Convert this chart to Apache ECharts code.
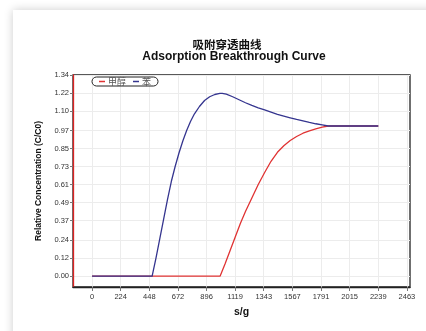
<!DOCTYPE html>
<html><head><meta charset="utf-8">
<script src="https://cdn.jsdelivr.net/npm/echarts@6/dist/echarts.min.js"></script>
<style>
html,body{margin:0;padding:0;width:426px;height:331px;overflow:hidden;background:#fff;}
#card{position:absolute;left:13px;top:10px;right:-30px;bottom:-30px;background:#fff;box-shadow:0 0 9px rgba(0,0,0,0.2);}
#chart{position:absolute;left:0;top:0;width:426px;height:331px;}
</style></head>
<body>
<div id="card"></div>
<div id="chart"></div>
<script>
// ---- data ----
const titleCN = '吸附穿透曲线';
const titleEN = 'Adsorption Breakthrough Curve';
const seriesNames = ['甲醇', '苯'];
const xTicks = [0, 224, 448, 672, 896, 1119, 1343, 1567, 1791, 2015, 2239, 2463];
const yTicks = [0.00, 0.12, 0.24, 0.37, 0.49, 0.61, 0.73, 0.85, 0.97, 1.10, 1.22, 1.34];
// 甲醇 (red)
const xMethanol = [0, 1002, 1040, 1080, 1120, 1160, 1200, 1250, 1300, 1350, 1400, 1450, 1500, 1550, 1600, 1650, 1700, 1750, 1800, 1848, 2239];
const yMethanol = [0, 0, 0.08, 0.17, 0.26, 0.35, 0.43, 0.52, 0.61, 0.69, 0.765, 0.825, 0.868, 0.903, 0.93, 0.952, 0.968, 0.981, 0.992, 1.0, 1.0];
// 苯 (blue)
const xBenzene = [0, 470, 500, 530, 560, 590, 620, 650, 680, 710, 740, 770, 800, 840, 880, 920, 960, 1000, 1018, 1050, 1100, 1150, 1200, 1250, 1300, 1350, 1400, 1450, 1500, 1550, 1600, 1650, 1700, 1750, 1800, 1848, 2239];
const yBenzene = [0, 0, 0.12, 0.25, 0.38, 0.51, 0.63, 0.73, 0.82, 0.9, 0.97, 1.03, 1.08, 1.13, 1.17, 1.195, 1.21, 1.217, 1.218, 1.212, 1.195, 1.175, 1.155, 1.137, 1.121, 1.107, 1.092, 1.078, 1.066, 1.055, 1.044, 1.034, 1.024, 1.015, 1.007, 1.0, 1.0];

const pair = (xs, ys) => xs.map((x, i) => [x, ys[i]]);
const tickFont = "'Liberation Sans Narrow','Liberation Sans',Arial,sans-serif";

const chart = echarts.init(document.getElementById('chart'), null, {renderer: 'canvas'});
chart.setOption({
  backgroundColor: 'transparent',
  animation: false,
  graphic: [
    {type: 'text', x: 227, y: 45, style: {text: titleCN, fill: '#111', font: 'bold 11.5px "Noto Sans CJK SC", sans-serif', align: 'center', verticalAlign: 'middle'}},
    {type: 'text', x: 234, y: 57, style: {text: titleEN, fill: '#111', font: 'bold 12px "Liberation Sans", Arial, sans-serif', align: 'center', verticalAlign: 'middle'}}
  ],
  legend: {
    left: 92, top: 77,
    data: seriesNames,
    icon: 'rect', itemWidth: 6, itemHeight: 1.5, itemGap: 7,
    padding: [0, 7],
    borderColor: '#222', borderWidth: 1, borderRadius: 6,
    backgroundColor: '#fff',
    textStyle: {fontSize: 9, color: '#555', padding: [0, 0, 0, -2], fontFamily: '"Noto Sans CJK SC", sans-serif'}
  },
  grid: {left: 73, top: 75, right: 16, bottom: 44, show: true, borderColor: '#222', borderWidth: 1.3, backgroundColor: 'transparent'},
  xAxis: {
    type: 'value', min: -149, max: 2487,
    name: 's/g', nameLocation: 'middle', nameGap: 20,
    nameTextStyle: {fontWeight: 'bold', fontSize: 10.5, color: '#111', fontFamily: 'Liberation Sans, Arial'},
    axisLine: {show: true, onZero: false, lineStyle: {color: '#222', width: 1.3}},
    axisTick: {show: true, length: 4, lineStyle: {color: '#777'}, customValues: xTicks},
    axisLabel: {customValues: xTicks, margin: 6, fontSize: 7.5, color: '#333', fontFamily: tickFont,
      formatter: v => String(v)},
    splitLine: {show: true, lineStyle: {color: '#ececec', width: 1}}
  },
  yAxis: {
    type: 'value', min: -0.073, max: 1.34,
    name: 'Relative Concentration (C/C0)', nameLocation: 'middle', nameGap: 25,
    nameTextStyle: {fontWeight: 'bold', fontSize: 8.5, color: '#111', fontFamily: 'Liberation Sans, Arial'},
    axisLine: {show: true, onZero: false, lineStyle: {color: '#dd2222', width: 1.3}},
    axisTick: {show: true, length: 3, lineStyle: {color: '#777'}, customValues: yTicks},
    axisLabel: {customValues: yTicks, margin: 4, fontSize: 7.5, color: '#333', fontFamily: tickFont,
      formatter: v => v.toFixed(2)},
    splitLine: {show: true, lineStyle: {color: '#ececec', width: 1}}
  },
  series: [
    {name: seriesNames[0], type: 'line', data: pair(xMethanol, yMethanol), showSymbol: false,
      smooth: false, lineStyle: {color: '#e03333', width: 1.3, join: 'round'}, itemStyle: {color: '#e03333'}},
    {name: seriesNames[1], type: 'line', data: pair(xBenzene, yBenzene), showSymbol: false,
      smooth: false, lineStyle: {color: '#35358f', width: 1.3, join: 'round'}, itemStyle: {color: '#35358f'}}
  ]
});
</script>
</body></html>
